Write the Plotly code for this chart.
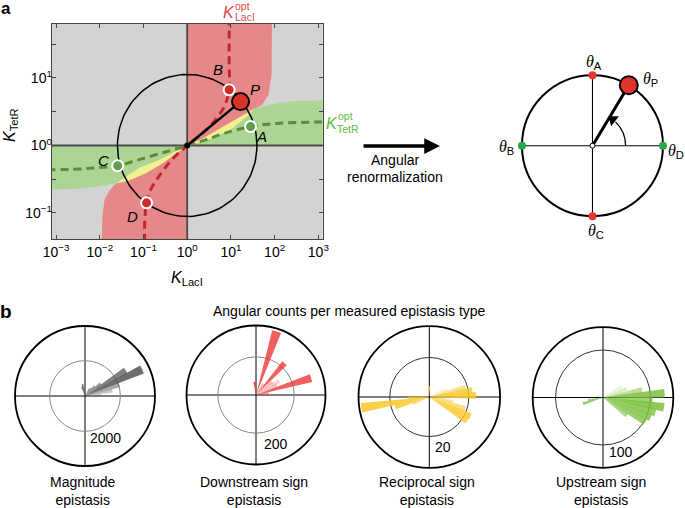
import math
import plotly.graph_objects as go

W, H = 685, 508
FONT = "Liberation Sans, Arial, sans-serif"
SERIF = "Liberation Serif, Times New Roman, serif"

# ---------------- panel a : values as log10 exponents ----------------
x_tick_exp = [-3, -2, -1, 0, 1, 2, 3]
y_tick_exp = [-1, -0.5, 0, 0.5, 1, 1.5]
x_range = [-3.1, 3.1]
y_range = [-1.39, 1.8]

red_up_lx = [0, 0, 0.55, 1.0, 1.37, 1.56, 1.71, 1.86, 1.93, 1.94, 1.94]
red_up_ly = [1.9, 0, 0.10, 0.24, 0.43, 0.55, 0.60, 0.75, 1.05, 1.4, 1.9]
red_lo_lx = [0, 0, -0.35, -0.73, -1.10, -1.40, -1.62, -1.77, -1.89, -1.94, -1.96, -1.96]
red_lo_ly = [-1.5, 0, -0.11, -0.24, -0.33, -0.46, -0.56, -0.66, -0.80, -1.05, -1.3, -1.5]
green_up_lx = [0, 0.40, 0.85, 1.30, 1.56, 1.75, 2.08, 2.5, 3.2, 3.2]
green_up_ly = [0, 0.12, 0.29, 0.46, 0.55, 0.58, 0.63, 0.66, 0.67, 0]
green_lo_lx = [0, -0.58, -0.95, -1.33, -1.62, -2.07, -2.5, -3.2, -3.2]
green_lo_ly = [0, -0.27, -0.41, -0.52, -0.56, -0.61, -0.64, -0.66, 0]
yellow_up_lx = [0, 0.40, 0.85, 1.30, 1.56, 1.37, 1.0, 0.55]
yellow_up_ly = [0, 0.12, 0.29, 0.46, 0.55, 0.43, 0.24, 0.10]
yellow_lo_lx = [0, -0.35, -0.73, -1.10, -1.40, -1.62, -1.33, -0.95, -0.58]
yellow_lo_ly = [0, -0.11, -0.24, -0.33, -0.46, -0.56, -0.52, -0.41, -0.27]

red_opt_lx = [0.96, 0.96, 0.96, 0.85, 0.62, 0.32, 0, -0.35, -0.65, -0.84, -0.93, -0.97, -0.97]
red_opt_ly = [1.9, 1.2, 0.825, 0.58, 0.36, 0.16, 0, -0.21, -0.46, -0.66, -0.85, -1.10, -1.5]
green_opt_lx = [-3.2, -2.5, -2.07, -1.59, -1.10, -0.58, -0.2, 0, 0.40, 0.85, 1.45, 1.9, 2.5, 3.2]
green_opt_ly = [-0.36, -0.35, -0.33, -0.30, -0.21, -0.11, -0.04, 0, 0.08, 0.18, 0.28, 0.32, 0.34, 0.35]

pt_names = ["A", "B", "C", "D"]
pt_lx = [1.45, 0.96, -1.59, -0.93]
pt_ly = [0.28, 0.825, -0.30, -0.85]
pt_colors = ["#5c9e4f", "#d02b2b", "#5c9e4f", "#d02b2b"]
pt_label_lx = [1.71, 0.70, -1.91, -1.25]
pt_label_ly = [0.13, 1.12, -0.22, -1.05]
P_lx, P_ly = 1.22, 0.65
P_label = (1.56, 0.83)
circle_rx, circle_ry = 1.596, 1.052   # radius of the drawn circle (decades)

# ---------------- right diagram: angles (deg) ----------------
diag_names = ["A", "B", "C", "D"]
diag_angles = [90, 180, 270, 0]
diag_colors = ["#e8352e", "#2aa845", "#e8352e", "#2aa845"]
diag_P_angle = 59

# ---------------- panel b : angular histograms ----------------
mag_theta = [4, 11, 18, 25, 32, 39, 46, 53, 60, 95, 102, 109]
mag_r = [900, 1580, 2040, 3570, 2720, 1130, 790, 570, 450, 400, 680, 560]
mag_alpha = [0.25, 0.35, 0.5, 0.85, 0.75, 0.6, 0.6, 0.6, 0.6, 0.7, 0.85, 0.85]

ds_theta = [3, 9, 17, 24, 31, 38, 48, 58, 72, 97]
ds_r = [40, 68, 302, 120, 142, 110, 224, 70, 350, 70]
ds_alpha = [0.4, 0.5, 0.8, 0.3, 0.25, 0.35, 0.8, 0.4, 0.8, 0.95]

rc_theta = [2, 9, 15, 22, 29, 90, 176, 183, 189, 196, 203, 328, 335, 342, 349, 356]
rc_r = [23.7, 22, 19, 10, 8, 5.5, 5, 11, 34.8, 18, 9, 22.7, 23, 19, 12, 8]
rc_alpha = [0.85, 0.8, 0.5, 0.25, 0.2, 0.8, 0.3, 0.7, 0.85, 0.8, 0.5, 0.8, 0.8, 0.6, 0.5, 0.4]

us_theta = [4, 11, 20, 30, 170, 190, 197, 323, 330, 337, 344, 351, 357]
us_r = [130, 84, 53, 46, 15, 32, 44, 63, 103, 109, 115, 130, 105]
us_alpha = [0.85, 0.5, 0.3, 0.2, 0.4, 0.7, 0.8, 0.6, 0.75, 0.8, 0.8, 0.85, 0.7]

polar_specs = [
    # theta, r, alpha, base rgb, rmax, inner tick, label, caption, centre px, radius px, grid colour
    (mag_theta, mag_r, mag_alpha, (85, 85, 85), 3960, 2000, "2000", "Magnitude<br>epistasis", (85, 396), 70, "#888"),
    (ds_theta, ds_r, ds_alpha, (238, 55, 55), 364, 200, "200", "Downstream sign<br>epistasis", (256, 395), 69.5, "#888"),
    (rc_theta, rc_r, rc_alpha, (248, 200, 40), 35.8, 20, "20", "Reciprocal sign<br>epistasis", (429.3, 397), 70.8, "#333"),
    (us_theta, us_r, us_alpha, (122, 192, 60), 148, 100, "100", "Upstream sign<br>epistasis", (603, 397.5), 70.3, "#333"),
]


def e10(v):
    return [10 ** a for a in v]


def px(x):
    return x / W


def py(y):
    return 1 - y / H


fig = go.Figure()


def poly(lx, ly, color):
    fig.add_trace(go.Scatter(x=e10(lx), y=e10(ly), mode="lines", fill="toself",
                             fillcolor=color, line=dict(width=0), hoverinfo="skip",
                             showlegend=False, xaxis="x", yaxis="y"))


RED_FILL, GREEN_FILL, YELLOW_FILL = "#e68889", "#acd595", "#f5f08f"
poly(red_up_lx, red_up_ly, RED_FILL)
poly(red_lo_lx, red_lo_ly, RED_FILL)
poly(green_up_lx, green_up_ly, GREEN_FILL)
poly(green_lo_lx, green_lo_ly, GREEN_FILL)
poly(yellow_up_lx, yellow_up_ly, YELLOW_FILL)
poly(yellow_lo_lx, yellow_lo_ly, YELLOW_FILL)

# axes lines through K = 1
fig.add_trace(go.Scatter(x=e10([-3.2, 3.2]), y=[1, 1], mode="lines",
                         line=dict(color="#4a4a4a", width=1.8), showlegend=False, hoverinfo="skip"))
fig.add_trace(go.Scatter(x=[1, 1], y=e10([-1.6, 2.0]), mode="lines",
                         line=dict(color="#4a4a4a", width=1.8), showlegend=False, hoverinfo="skip"))

# optimal curves
fig.add_trace(go.Scatter(x=e10(red_opt_lx), y=e10(red_opt_ly), mode="lines",
                         line=dict(color="#c0282e", width=3, dash="8px,5px", shape="spline"),
                         showlegend=False, hoverinfo="skip"))
fig.add_trace(go.Scatter(x=e10(green_opt_lx), y=e10(green_opt_ly), mode="lines",
                         line=dict(color="#5b8c3a", width=3, dash="8px,5px", shape="spline"),
                         showlegend=False, hoverinfo="skip"))

# circle around K = (1, 1)
angs = [i * 3 for i in range(121)]
fig.add_trace(go.Scatter(x=[10 ** (circle_rx * math.cos(math.radians(a))) for a in angs],
                         y=[10 ** (circle_ry * math.sin(math.radians(a))) for a in angs],
                         mode="lines", line=dict(color="black", width=1.5),
                         showlegend=False, hoverinfo="skip"))

# line to P
fig.add_trace(go.Scatter(x=[1, 10 ** P_lx], y=[1, 10 ** P_ly], mode="lines",
                         line=dict(color="black", width=2.5), showlegend=False, hoverinfo="skip"))
fig.add_trace(go.Scatter(x=[1], y=[1], mode="markers", marker=dict(color="black", size=6),
                         showlegend=False, hoverinfo="skip"))
fig.add_trace(go.Scatter(x=e10(pt_lx), y=e10(pt_ly), mode="markers",
                         marker=dict(color=pt_colors, size=11, line=dict(color="white", width=2)),
                         showlegend=False, hoverinfo="skip"))
fig.add_trace(go.Scatter(x=[10 ** P_lx], y=[10 ** P_ly], mode="markers",
                         marker=dict(color="#d9312b", size=17, line=dict(color="black", width=2)),
                         showlegend=False, hoverinfo="skip"))

# ---------------- right diagram (x2 / y2) ----------------
dx = [math.cos(math.radians(a)) for a in diag_angles]
dy = [math.sin(math.radians(a)) for a in diag_angles]
Px, Py = math.cos(math.radians(diag_P_angle)), math.sin(math.radians(diag_P_angle))
fig.add_trace(go.Scatter(x=[0, Px], y=[0, Py], mode="lines", line=dict(color="black", width=3),
                         xaxis="x2", yaxis="y2", showlegend=False, hoverinfo="skip"))
fig.add_trace(go.Scatter(x=dx, y=dy, mode="markers", marker=dict(color=diag_colors, size=8),
                         xaxis="x2", yaxis="y2", showlegend=False, hoverinfo="skip"))
fig.add_trace(go.Scatter(x=[Px], y=[Py], mode="markers",
                         marker=dict(color="#e0352c", size=18, line=dict(color="black", width=2)),
                         xaxis="x2", yaxis="y2", showlegend=False, hoverinfo="skip"))
fig.add_trace(go.Scatter(x=[0], y=[0], mode="markers",
                         marker=dict(color="white", size=5, line=dict(color="black", width=1)),
                         xaxis="x2", yaxis="y2", showlegend=False, hoverinfo="skip"))
arc_r, arc_end = 0.47, 46
arr_ang = 52
fig.add_trace(go.Scatter(x=[arc_r * math.cos(math.radians(arr_ang))], y=[arc_r * math.sin(math.radians(arr_ang))],
                         mode="markers", marker=dict(symbol="triangle-up", size=11, color="black",
                                                     angle=-arr_ang),
                         xaxis="x2", yaxis="y2", showlegend=False, hoverinfo="skip"))

# ---------------- polar histograms ----------------
for i, (th, rr, al, rgb, rmax, inner, lab, cap, (cx, cy), R, gcol) in enumerate(polar_specs):
    name = "polar" if i == 0 else f"polar{i + 1}"
    cols = [f"rgba({rgb[0]},{rgb[1]},{rgb[2]},{a})" for a in al]
    fig.add_trace(go.Barpolar(theta=th, r=rr, width=[8] * len(th),
                              marker=dict(color=cols, line=dict(width=0)),
                              subplot=name, showlegend=False, hoverinfo="skip"))
    fig.layout[name] = dict(
        domain=dict(x=[px(cx - R), px(cx + R)], y=[py(cy + R), py(cy - R)]),
        bgcolor="rgba(0,0,0,0)",
        radialaxis=dict(range=[0, rmax], tickvals=[inner], showticklabels=False, ticks="",
                        showline=False, gridcolor=gcol, gridwidth=0.9),
        angularaxis=dict(tickvals=[0, 90, 180, 270], showticklabels=False, ticks="",
                         gridcolor="black", gridwidth=1.3, linecolor="black", linewidth=1.8,
                         direction="counterclockwise", rotation=0),
    )

# ---------------- shapes ----------------
shapes = [
    dict(type="rect", xref="x domain", yref="y domain", x0=0, x1=1, y0=0, y1=1,
         fillcolor="#d3d3d3", line=dict(width=0), layer="below"),
    dict(type="circle", xref="x2", yref="y2", x0=-1, x1=1, y0=-1, y1=1,
         line=dict(color="black", width=2), layer="below"),
    dict(type="line", xref="x2", yref="y2", x0=-1, x1=1, y0=0, y1=0,
         line=dict(color="black", width=1.1), layer="below"),
    dict(type="line", xref="x2", yref="y2", x0=0, x1=0, y0=-1, y1=1,
         line=dict(color="black", width=1.1), layer="below"),
]
# arc of the curved arrow (cubic Bezier approximation)
t = math.radians(arc_end)
k = 4 / 3 * math.tan(t / 4) * arc_r
x0a, y0a = arc_r, 0
x3a, y3a = arc_r * math.cos(t), arc_r * math.sin(t)
c1 = (x0a, k)
c2 = (x3a + k * math.sin(t), y3a - k * math.cos(t))
shapes.append(dict(type="path", xref="x2", yref="y2",
                   path=f"M{x0a},{y0a} C{c1[0]},{c1[1]} {c2[0]},{c2[1]} {x3a},{y3a}",
                   line=dict(color="black", width=1.3), layer="below"))

# ---------------- annotations ----------------
ann = []


def text(s, x, y, size=14, color="black", xanchor="center", family=FONT, **kw):
    ann.append(dict(text=s, x=px(x), y=py(y), xref="paper", yref="paper", showarrow=False,
                    xanchor=xanchor, yanchor="middle", font=dict(size=size, color=color, family=family), **kw))


text("<b>a</b>", 6, 9, size=17)
text("<b>b</b>", 6, 311, size=19)
text("<i>K</i><sub>LacI</sub>", 187, 278, size=16)
text("<i>K</i><sub>TetR</sub>", 10, 125, size=16, textangle=-90)
# optimal-curve labels
text("<i>K</i>", 229, 13, size=16, color="#e04a4a")
text("opt", 243, 6, size=10.5, color="#e04a4a")
text("LacI", 245, 17, size=10.5, color="#e04a4a")
text("<i>K</i>", 332, 123, size=16, color="#5cbd3c")
text("opt", 345, 116, size=10.5, color="#5cbd3c")
text("TetR", 348, 129, size=10.5, color="#5cbd3c")
# point labels (log axis coords)
for n, lx, ly in zip(pt_names, pt_label_lx, pt_label_ly):
    ann.append(dict(text=f"<i>{n}</i>", x=lx, y=ly, xref="x", yref="y", showarrow=False,
                    font=dict(size=15, color="black", family=FONT)))
ann.append(dict(text="<i>P</i>", x=P_label[0], y=P_label[1], xref="x", yref="y", showarrow=False,
                font=dict(size=15, color="black", family=FONT)))

# big arrow
ann.append(dict(x=px(440), y=py(146), ax=-78, ay=0, xref="paper", yref="paper",
                axref="pixel", ayref="pixel", text="", showarrow=True, arrowhead=2,
                arrowwidth=3.5, arrowsize=0.9, arrowcolor="black"))
text("Angular", 395, 160, size=14)
text("renormalization", 395, 177, size=14)


def theta_lab(sub):
    return f"<span style='font-family:{SERIF}'><i>θ</i></span><sub>{sub}</sub>"


text(theta_lab("A"), 594, 62, size=16)
text(theta_lab("P"), 650, 80, size=16)
text(theta_lab("B"), 506, 148, size=16)
text(theta_lab("D"), 676, 151, size=16)
text(theta_lab("C"), 596, 231, size=16)

text("Angular counts per measured epistasis type", 349, 311, size=14)
label_pos = [(88, 438), (262, 444), (433, 447), (607, 452)]
for (th, rr, al, rgb, rmax, inner, lab, cap, (cx, cy), R, gcol), (lxp, lyp) in zip(polar_specs, label_pos):
    text(lab, lxp, lyp, size=14, xanchor="left")
    text(cap, cx - 2, 491, size=14)

# ---------------- layout ----------------
fig.update_layout(
    template="none",
    width=W, height=H, margin=dict(l=0, r=0, t=0, b=0, pad=0, autoexpand=False),
    paper_bgcolor="white", plot_bgcolor="white",
    font=dict(family=FONT, color="black"),
    showlegend=False,
    xaxis=dict(domain=[px(51.7), px(322.7)], type="log", range=x_range, automargin=False,
               tickvals=e10(x_tick_exp),
               ticktext=[f"10<sup>{str(e).replace('-', '−')}</sup>" for e in x_tick_exp],
               ticks="inside", ticklen=4, tickcolor="#444", showline=True, linecolor="#444",
               linewidth=1, mirror="ticks", showgrid=False, zeroline=False,
               tickfont=dict(size=14), anchor="y"),
    yaxis=dict(domain=[py(239.3), py(24)], type="log", range=y_range, automargin=False,
               tickvals=e10(y_tick_exp),
               ticktext=[f"10<sup>{str(int(e)).replace('-', '−')}</sup>" if e == int(e) else "" for e in y_tick_exp],
               ticks="inside", ticklen=4, tickcolor="#444", showline=True, linecolor="#444",
               linewidth=1, mirror="ticks", showgrid=False, zeroline=False,
               ticklabelstandoff=-4,
               tickfont=dict(size=14), anchor="x"),
    xaxis2=dict(domain=[px(510), px(682)], range=[-1.170, 1.270], visible=False, anchor="y2",
                automargin=False),
    yaxis2=dict(domain=[py(236), py(62)], range=[-1.281, 1.187], visible=False, anchor="x2",
                automargin=False),
    shapes=shapes,
    annotations=ann,
)

fig.write_html("out.html", config={"displayModeBar": False, "responsive": False},
               post_script="document.body.style.margin='0';document.body.style.overflow='hidden';")
